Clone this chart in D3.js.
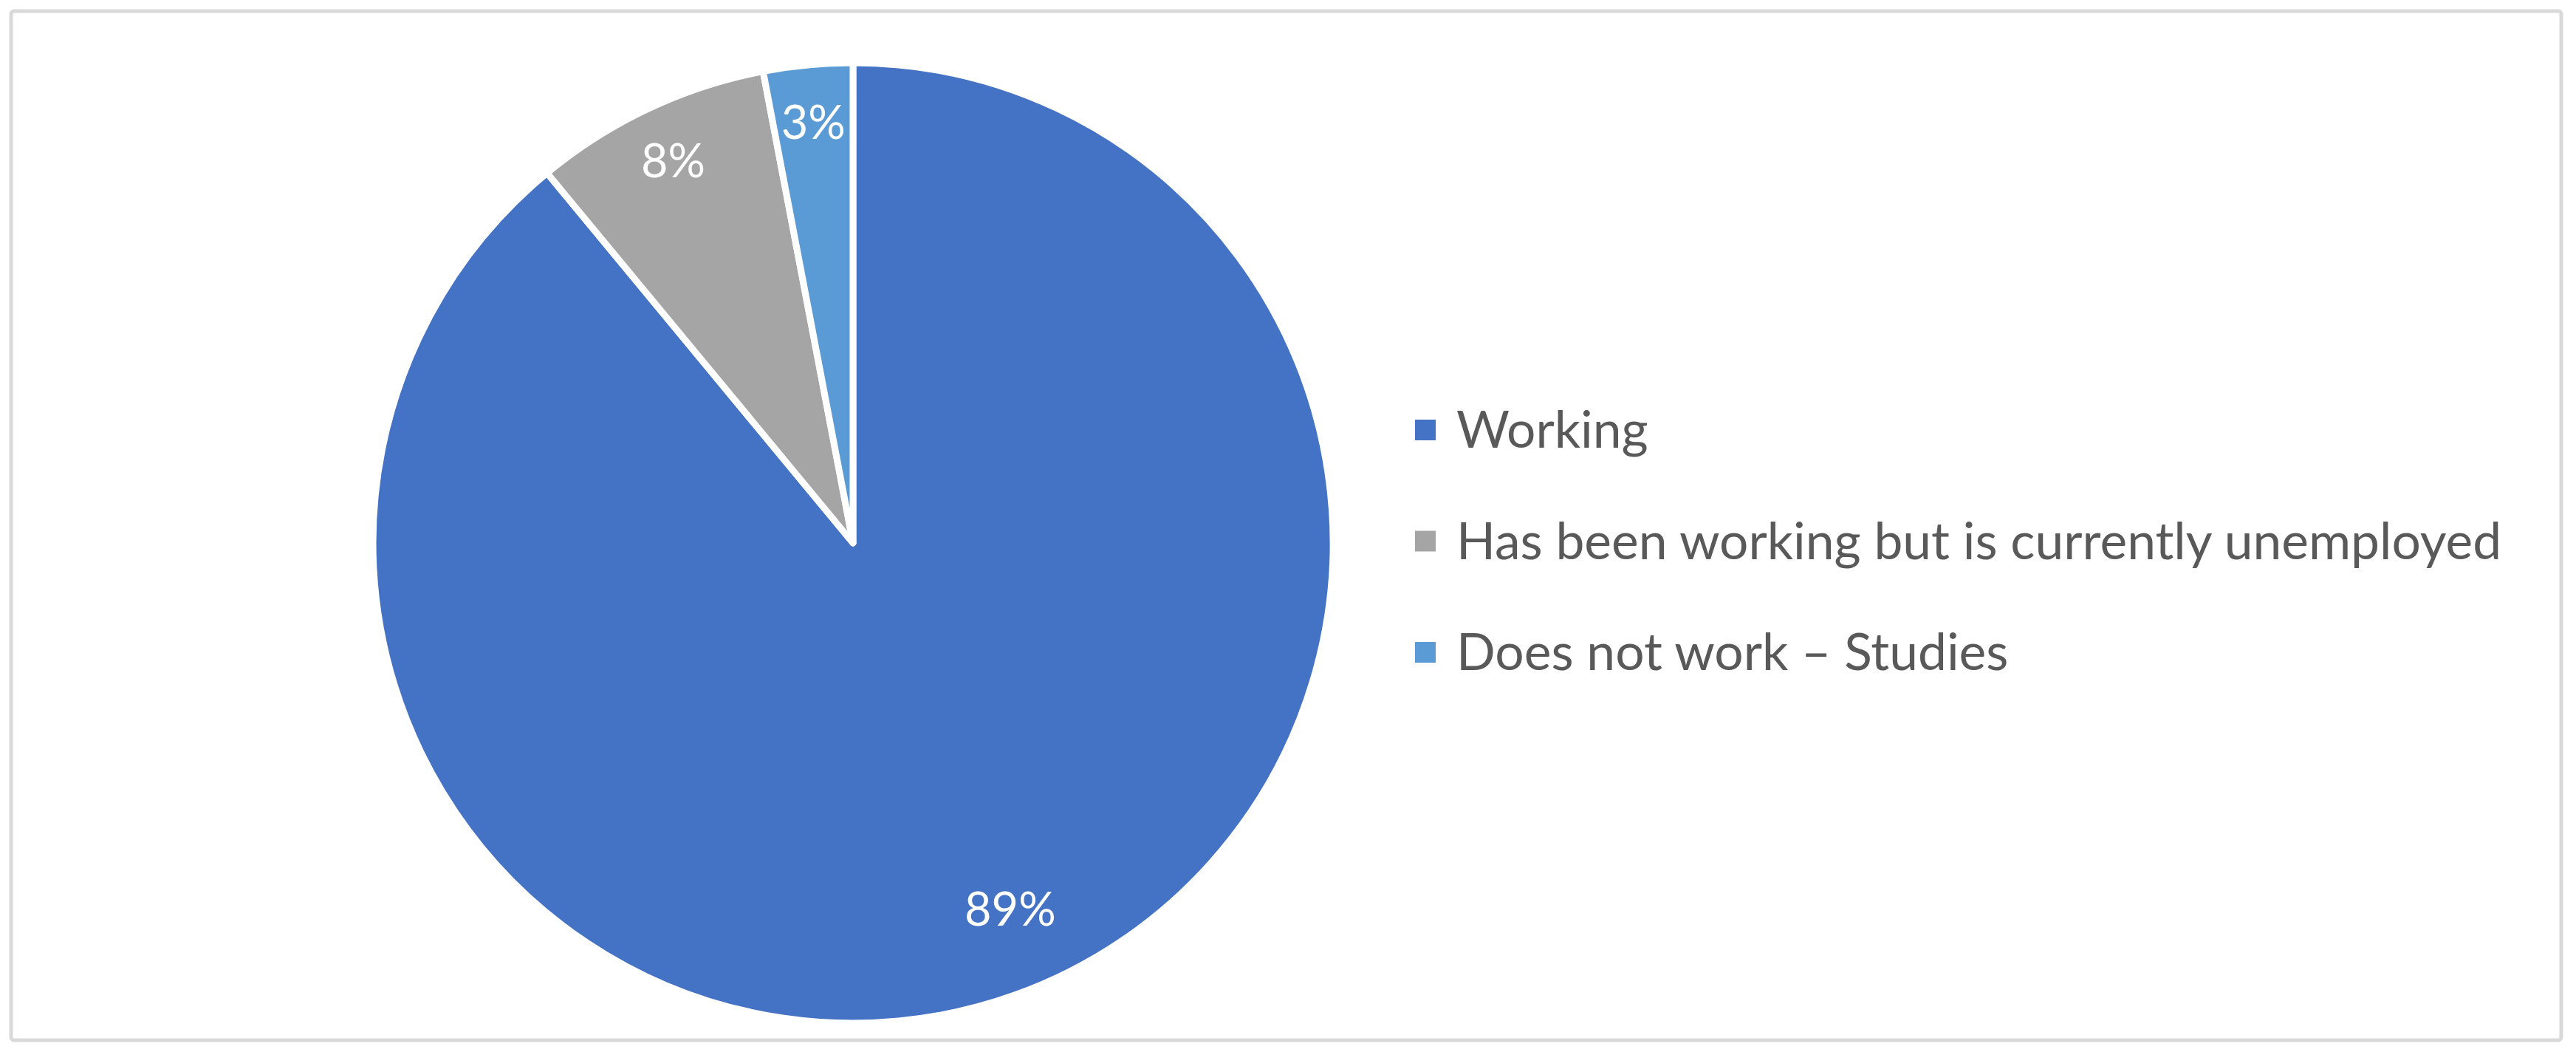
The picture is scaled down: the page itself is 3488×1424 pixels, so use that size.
<!DOCTYPE html>
<meta charset="utf-8">
<style>
body { margin: 0; background: #fff; }
svg { display: block; }
.legend text { fill: #595959; font-family: Lato, "Open Sans", sans-serif; }
.labels text { fill: #fff; font-family: Lato, "Open Sans", sans-serif; }
</style>
<svg width="3488" height="1424"></svg>
<script src="https://d3js.org/d3.v7.min.js"></script>
<script>
// chart data
var categories = ["Working", "Has been working but is currently unemployed", "Does not work \u2013 Studies"];
var values = [89, 8, 3];
var labels = ["89%", "8%", "3%"];
var colours = ["#4472C4", "#A5A5A5", "#5B9BD5"];

var svg = d3.select("svg"),
    width = +svg.attr("width"),
    height = +svg.attr("height");

// outer frame
svg.append("rect")
    .attr("x", 15).attr("y", 15)
    .attr("width", 3453).attr("height", 1393)
    .attr("rx", 4)
    .attr("fill", "#fff")
    .attr("stroke", "#d9d9d9")
    .attr("stroke-width", 5);

var cx = 1155, cy = 735, radius = 650;

var data = categories.map(function(c, i) {
  return {name: c, value: values[i], label: labels[i], colour: colours[i]};
});

var pie = d3.pie()
    .sort(null)
    .value(function(d) { return d.value; });

var arc = d3.arc().innerRadius(0).outerRadius(radius);
// big slice label sits a bit further in, like excel's best fit
function labelPos(d) {
  var r = (d.endAngle - d.startAngle) > Math.PI ? radius * 0.83 : radius * 0.88;
  var a = (d.startAngle + d.endAngle) / 2;
  if ((d.endAngle - d.startAngle) > Math.PI) a -= 0.06;
  return [Math.sin(a) * r, -Math.cos(a) * r];
}

var g = svg.append("g").attr("transform", "translate(" + cx + "," + cy + ")");

g.selectAll("path")
    .data(pie(data))
    .enter().append("path")
    .attr("d", arc)
    .attr("fill", function(d) { return d.data.colour; })
    .attr("stroke", "#fff")
    .attr("stroke-width", 9)
    .attr("stroke-linejoin", "round");

g.append("g").attr("class", "labels")
    .selectAll("text")
    .data(pie(data))
    .enter().append("text")
    .attr("transform", function(d) { return "translate(" + labelPos(d) + ")"; })
    .attr("text-anchor", "middle")
    .attr("dy", "0.35em")
    .style("font-size", "63px")
    .text(function(d) { return d.data.label; });

// legend
var legendY = d3.scalePoint()
    .domain(categories)
    .range([582, 883]);

var legend = svg.append("g").attr("class", "legend")
    .selectAll("g")
    .data(data)
    .enter().append("g")
    .attr("transform", function(d) { return "translate(1916," + legendY(d.name) + ")"; });

legend.append("rect")
    .attr("x", 0).attr("y", -14)
    .attr("width", 28).attr("height", 28)
    .attr("fill", function(d) { return d.colour; });

legend.append("text")
    .attr("x", 56)
    .attr("y", 24)
    .style("font-size", "69.5px")
    .text(function(d) { return d.name; });
</script>
